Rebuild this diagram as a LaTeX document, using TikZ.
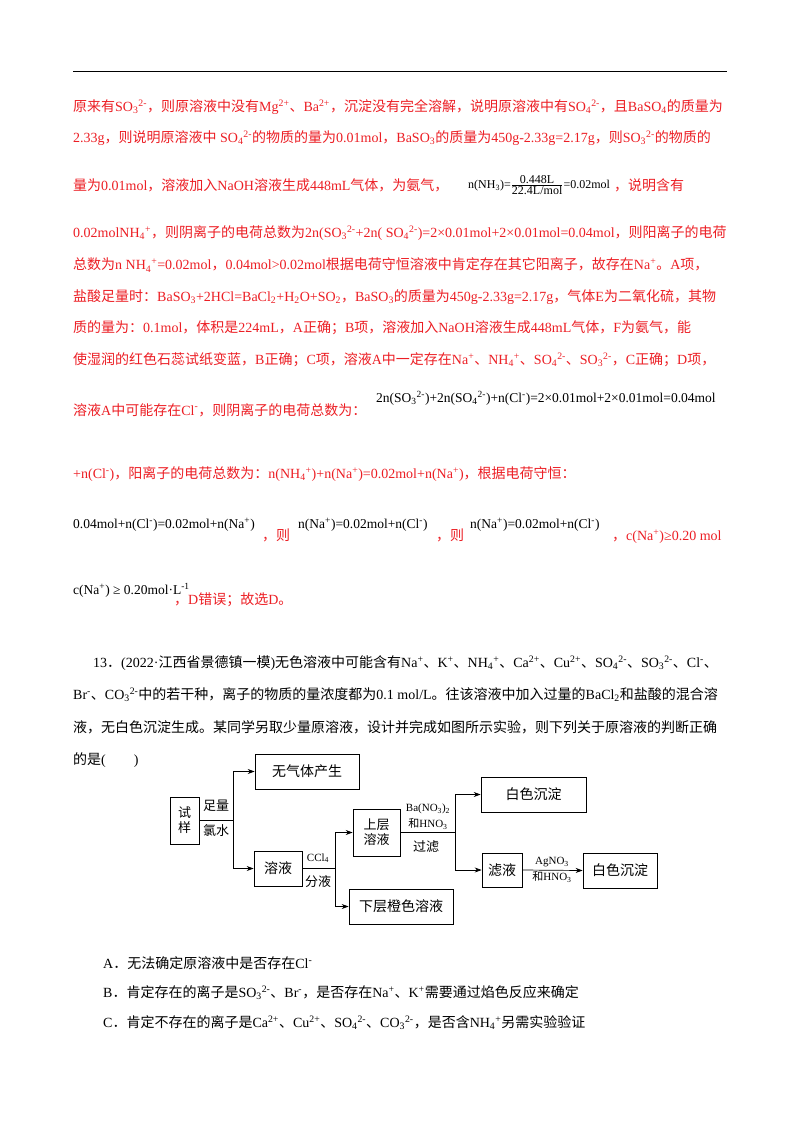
\documentclass[tikz,border=0pt]{standalone}
\usepackage{fontspec}
\setmainfont{Liberation Serif}
\newfontfamily\cjk{Noto Sans CJK SC}
\newcommand\latinfont{\rmfamily}
\XeTeXinterchartokenstate=1
\newXeTeXintercharclass\cjkclass
\makeatletter
\count@="3000 \loop\ifnum\count@<"3040 \XeTeXcharclass\count@=\cjkclass \advance\count@ 1 \repeat
\count@="4E00 \loop\ifnum\count@<"A000 \XeTeXcharclass\count@=\cjkclass \advance\count@ 1 \repeat
\count@="FF00 \loop\ifnum\count@<"FFF0 \XeTeXcharclass\count@=\cjkclass \advance\count@ 1 \repeat
\makeatother
\XeTeXinterchartoks 0 \cjkclass = {\cjk}
\XeTeXinterchartoks 4095 \cjkclass = {\cjk}
\XeTeXinterchartoks \cjkclass 0 = {\latinfont}
\XeTeXinterchartoks 4095 0 = {\latinfont}
\XeTeXinterchartoks \cjkclass 4095 = {\latinfont}
\newcommand\Sb[1]{\textsubscript{#1}}
\newcommand\Sp[1]{\textsuperscript{#1}}
\definecolor{ansred}{RGB}{236,30,36}
\tikzset{
 ln/.style={anchor=west,inner sep=0pt,font=\fontsize{14}{16}\selectfont},
 rl/.style={ln,text=ansred},
 fm/.style={ln,font=\fontsize{13.5}{14}\selectfont},
 bx/.style={draw,line width=0.7pt,inner sep=0pt,font=\fontsize{14}{16}\selectfont},
 lb/.style={inner sep=0pt,font=\fontsize{13}{14}\selectfont},
 sl/.style={inner sep=0pt,font=\fontsize{11}{12}\selectfont},
 ar/.style={-{Stealth[length=7pt,width=5pt]},line width=0.7pt},
 pl/.style={line width=0.7pt}
}
\usetikzlibrary{arrows.meta}
\begin{document}
\begin{tikzpicture}[x=1pt,y=-1pt]
\useasboundingbox (0,0) rectangle (800,1132);
\draw[line width=1pt] (73,72) coordinate (r1) -- (727,72) coordinate (r2);
\node[rl] (l1) at (73,107) {原来有SO\Sb{3}\Sp{2-}，则原溶液中没有Mg\Sp{2+}、Ba\Sp{2+}，沉淀没有完全溶解，说明原溶液中有SO\Sb{4}\Sp{2-}，且BaSO\Sb{4}的质量为};
\node[rl] (l2) at (73,138) {2.33g，则说明原溶液中 SO\Sb{4}\Sp{2-}的物质的量为0.01mol，BaSO\Sb{3}的质量为450g-2.33g=2.17g，则SO\Sb{3}\Sp{2-}的物质的};
\node[rl] (l3) at (73,185) {量为0.01mol，溶液加入NaOH溶液生成448mL气体，为氨气，};
\node[ln,font=\fontsize{12}{13}\selectfont] (l3b) at (468,185) {n(NH\Sb{3})=$\frac{\hbox{0.448L}}{\hbox{22.4L/mol}}$=0.02mol};
\node[rl] (l3c) at (614,185) {，说明含有};
\node[rl] (l4) at (73,233) {0.02molNH\Sb{4}\Sp{+}，则阴离子的电荷总数为2n(SO\Sb{3}\Sp{2-}+2n( SO\Sb{4}\Sp{2-})=2×0.01mol+2×0.01mol=0.04mol，则阳离子的电荷};
\node[rl] (l5) at (73,265) {总数为n NH\Sb{4}\Sp{+}=0.02mol，0.04mol>0.02mol根据电荷守恒溶液中肯定存在其它阳离子，故存在Na\Sp{+}。A项，};
\node[rl] (l6) at (73,297) {盐酸足量时：BaSO\Sb{3}+2HCl=BaCl\Sb{2}+H\Sb{2}O+SO\Sb{2}，BaSO\Sb{3}的质量为450g-2.33g=2.17g，气体E为二氧化硫，其物};
\node[rl] (l7) at (73,328) {质的量为：0.1mol，体积是224mL，A正确；B项，溶液加入NaOH溶液生成448mL气体，F为氨气，能};
\node[rl] (l8) at (73,360) {使湿润的红色石蕊试纸变蓝，B正确；C项，溶液A中一定存在Na\Sp{+}、NH\Sb{4}\Sp{+}、SO\Sb{4}\Sp{2-}、SO\Sb{3}\Sp{2-}，C正确；D项，};
\node[rl] (l9) at (73,410) {溶液A中可能存在Cl\Sp{-}，则阴离子的电荷总数为：};
\node[fm,font=\fontsize{13.5}{14}\selectfont] (l9b) at (376,398) {2n(SO\Sb{3}\Sp{2-})+2n(SO\Sb{4}\Sp{2-})+n(Cl\Sp{-})=2×0.01mol+2×0.01mol=0.04mol};
\node[rl] (l10) at (73,474) {+n(Cl\Sp{-})，阳离子的电荷总数为：n(NH\Sb{4}\Sp{+})+n(Na\Sp{+})=0.02mol+n(Na\Sp{+})，根据电荷守恒：};
\node[fm] (l11a) at (73,525) {0.04mol+n(Cl\Sp{-})=0.02mol+n(Na\Sp{+})};
\node[rl] (l11b) at (262,535) {，则};
\node[fm] (l11c) at (298,525) {n(Na\Sp{+})=0.02mol+n(Cl\Sp{-})};
\node[rl] (l11d) at (436,535) {，则};
\node[fm] (l11e) at (470,525) {n(Na\Sp{+})=0.02mol+n(Cl\Sp{-})};
\node[rl] (l11f) at (612,537) {，c(Na\Sp{+})≥0.20 mol};
\node[fm] (l12a) at (73,590) {c(Na\Sp{+}) ≥ 0.20mol·L\Sp{-1}};
\node[rl] (l12b) at (174,600) {，D错误；故选D。};
\node[ln] (q1) at (93,663) {13．(2022·江西省景德镇一模)无色溶液中可能含有Na\Sp{+}、K\Sp{+}、NH\Sb{4}\Sp{+}、Ca\Sp{2+}、Cu\Sp{2+}、SO\Sb{4}\Sp{2-}、SO\Sb{3}\Sp{2-}、Cl\Sp{-}、};
\node[ln] (q2) at (73,695) {Br\Sp{-}、CO\Sb{3}\Sp{2-}中的若干种，离子的物质的量浓度都为0.1 mol/L。往该溶液中加入过量的BaCl\Sb{2}和盐酸的混合溶};
\node[ln] (q3) at (73,727) {液，无白色沉淀生成。某同学另取少量原溶液，设计并完成如图所示实验，则下列关于原溶液的判断正确};
\node[ln] (q4) at (73,760) {的是(\hspace{28pt})};
% flowchart
\node[bx,minimum width=29pt,minimum height=47pt,align=center,font=\fontsize{13}{15}\selectfont] (sy) at (184.5,820.5) {试\\样};
\node[bx,minimum width=104pt,minimum height=35pt] (wq) at (307,771.5) {无气体产生};
\node[bx,minimum width=48pt,minimum height=35pt] (ry) at (278,868.5) {溶液};
\node[bx,minimum width=47pt,minimum height=47pt,align=center,font=\fontsize{13}{15}\selectfont] (sc) at (376.5,832.5) {上层\\溶液};
\node[bx,minimum width=104pt,minimum height=35pt] (xc) at (401,906.5) {下层橙色溶液};
\node[bx,minimum width=105pt,minimum height=35pt] (bs1) at (533.5,794.5) {白色沉淀};
\node[bx,minimum width=40pt,minimum height=34pt] (ly) at (502,870) {滤液};
\node[bx,minimum width=74pt,minimum height=35pt] (bs2) at (620,870.5) {白色沉淀};
\coordinate (j1) at (233,820.5);
\coordinate (j2) at (335,868.5);
\coordinate (j3) at (455,832.5);
\draw[pl] (sy.east) -- (j1);
\draw[ar] (j1) |- (wq.west);
\draw[ar] (j1) |- (ry.west);
\draw[pl] (ry.east) -- (j2);
\draw[ar] (j2) |- (sc.west);
\draw[ar] (j2) |- (xc.west);
\draw[pl] (sc.east) -- (j3);
\draw[ar] (j3) |- (bs1.west);
\draw[ar] (j3) |- (ly.west);
\draw[ar] (ly.east) -- (bs2.west);
\node[lb] (t1) at (216,806) {足量};
\node[lb] (t2) at (216,831) {氯水};
\node[sl] (t3) at (318,858) {CCl\Sb{4}};
\node[lb] (t4) at (318,882) {分液};
\node[sl] (t5) at (428,809) {Ba(NO\Sb{3})\Sb{2}};
\node[sl] (t6) at (428,824) {和HNO\Sb{3}};
\node[lb] (t7) at (426,847) {过滤};
\node[sl] (t8) at (552,862) {AgNO\Sb{3}};
\node[sl] (t9) at (552,877) {和HNO\Sb{3}};
% options
\node[ln] (oA) at (103,963) {A．无法确定原溶液中是否存在Cl\Sp{-}};
\node[ln] (oB) at (103,993) {B．肯定存在的离子是SO\Sb{3}\Sp{2-}、Br\Sp{-}，是否存在Na\Sp{+}、K\Sp{+}需要通过焰色反应来确定};
\node[ln] (oC) at (103,1023) {C．肯定不存在的离子是Ca\Sp{2+}、Cu\Sp{2+}、SO\Sb{4}\Sp{2-}、CO\Sb{3}\Sp{2-}，是否含NH\Sb{4}\Sp{+}另需实验验证};
\end{tikzpicture}
\end{document}
